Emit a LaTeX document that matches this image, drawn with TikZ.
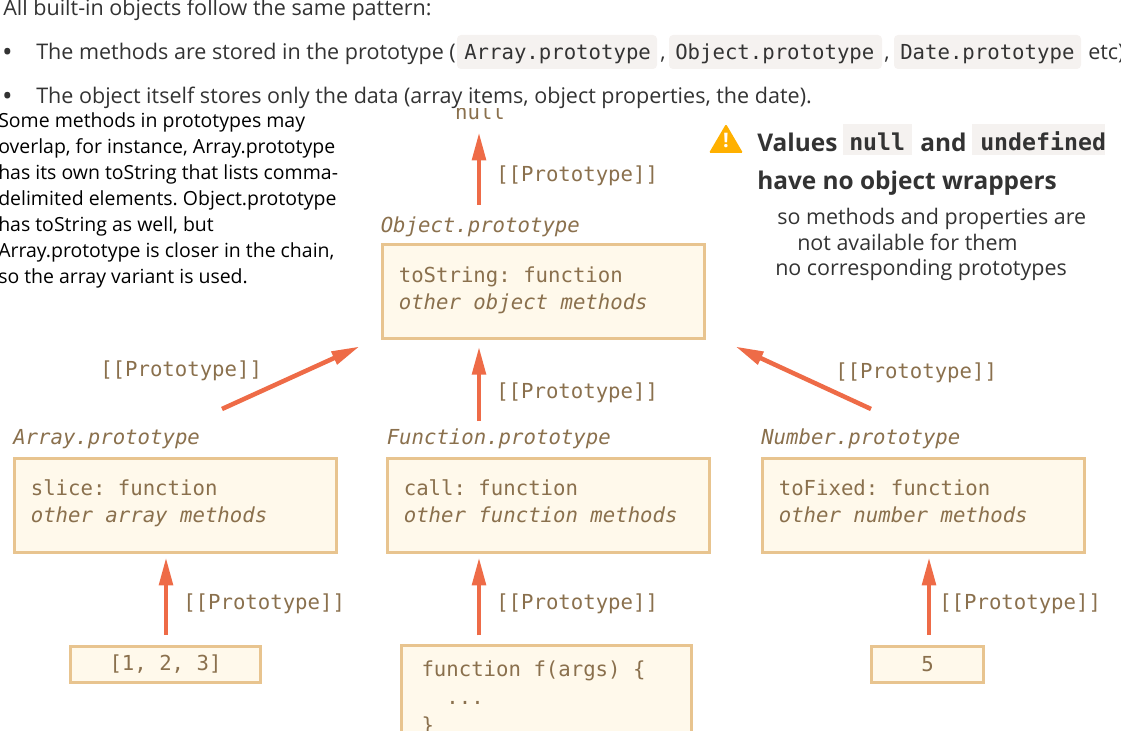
\documentclass[tikz,border=0pt]{standalone}
\usepackage{fontspec}
\setmainfont{Open Sans}
\setmonofont{DejaVu Sans Mono}
\usepackage{xcolor}
\usetikzlibrary{arrows.meta,positioning,calc}
\definecolor{cvfill}{RGB}{255,249,235}
\definecolor{cvedge}{RGB}{232,196,143}
\definecolor{cvtext}{RGB}{138,112,77}
\definecolor{cvarrow}{RGB}{238,107,71}
\definecolor{cvchip}{RGB}{245,242,240}
\definecolor{cvbody}{RGB}{51,51,51}
\definecolor{cvwarn}{RGB}{255,176,0}
\newcommand{\boxstrut}{\rule[-8.6pt]{0pt}{10pt}}
\newcommand{\topstrut}{\rule[-7.2pt]{0pt}{10pt}}
\begin{document}
\begin{tikzpicture}[x=0.75pt,y=-0.75pt,
  protobox/.style={draw=cvedge,fill=cvfill,line width=2.25pt,align=flush left,inner xsep=12pt,inner ysep=0pt,
              text=cvtext,font={\fontsize{15.5}{20.25}\selectfont\ttfamily}},
  valuebox/.style={draw=cvedge,fill=cvfill,line width=2.25pt,inner sep=0pt,minimum height=27pt,
              text=cvtext,font={\fontsize{15.5}{20.25}\selectfont\ttfamily}},
  prototitle/.style={anchor=west,inner sep=0pt,text=cvtext,font={\fontsize{15.5}{18}\selectfont\ttfamily\itshape}},
  protolabel/.style={anchor=west,inner sep=0pt,text=cvtext,font={\fontsize{15.5}{18}\selectfont\ttfamily}},
  protoarrow/.style={-{Triangle[length=21pt,width=10pt]},line width=3.4pt,draw=cvarrow},
  bodytext/.style={anchor=base west,inner sep=0pt,text=cvbody,font={\fontsize{16.15}{20}\selectfont}},
  chiptext/.style={anchor=base west,inner sep=0pt,text=cvbody,font={\fontsize{15.5}{20}\selectfont\ttfamily}},
  chipbox/.style={fill=cvchip,rounded corners=3pt,draw=none},
  headtext/.style={anchor=base west,inner sep=0pt,text=cvbody,font={\fontsize{18.3}{22}\selectfont\bfseries}},
  headcode/.style={anchor=base west,inner sep=0pt,text=cvbody,font={\fontsize{17.4}{22}\selectfont\ttfamily\bfseries}},
  sidetext/.style={anchor=north west,inner sep=0pt,align=flush left,text=black,font={\fontsize{14.6}{19.5}\selectfont\frenchspacing}},
  notetext/.style={anchor=base west,inner sep=0pt,text=cvbody,font={\fontsize{16.1}{20}\selectfont}}
]
\useasboundingbox (0,0) rectangle (1121,731);
\clip (0,0) rectangle (1121,731);
% null is cut off by the text line above it
\node[protolabel,anchor=center] (nulltext) at (480,112) {null};
\node[bodytext,fill=white,minimum width=1121*0.75pt,text width=820pt,inner ysep=3pt] (dataline) at (0,104) {};
% text above the picture
\node[bodytext] (intro) at (3,16) {All built-in objects follow the same pattern:};
\node[bodytext] (bulleta) at (3,60) {\textbf{•}};
\node[bodytext] (linea) at (36,60) {The methods are stored in the prototype (};
\fill[chipbox] (457,35) rectangle (657,69);
\fill[chipbox] (669,35) rectangle (882,69);
\fill[chipbox] (894,35) rectangle (1081,69);
\node[chiptext] (chiparray) at (464,60) {Array.prototype};
\node[bodytext] (comma1) at (660,60) {,};
\node[chiptext] (chipobject) at (675,60) {Object.prototype};
\node[bodytext] (comma2) at (884,60) {,};
\node[chiptext] (chipdate) at (900,60) {Date.prototype};
\node[bodytext] (etc) at (1088,60) {etc)};
\node[bodytext] (bulletb) at (3,104) {\textbf{•}};
\node[bodytext] (lineb) at (36,104) {The object itself stores only the data (array items, object properties, the date).};
% text on the left
\node[sidetext] (sidenote) at (-2,112) {Some methods in prototypes may\\overlap, for instance, Array.prototype\\has its own toString that lists comma-\\delimited elements. Object.prototype\\has toString as well, but\\Array.prototype is closer in the chain,\\so the array variant is used.};
% warning on the right
\fill[cvwarn,rounded corners=1pt] (726,124) -- (743,153) -- (709,153) -- cycle;
\node[inner sep=0pt,text=white,font={\fontsize{15}{15}\selectfont\bfseries}] (warnmark) at (726,140) {!};
\fill[chipbox,sharp corners] (843,124) rectangle (912,155);
\fill[chipbox,sharp corners] (972,124) rectangle (1105,155);
\node[headtext] (headvalues) at (757,152) {Values};
\node[headcode] (headnull) at (849,151) {null};
\node[headtext] (headand) at (920,152) {and};
\node[headcode] (headundef) at (980,151) {undefined};
\node[headtext] (headwrap) at (757,190) {have no object wrappers};
\node[notetext] (notea) at (777,224) {so methods and properties are};
\node[notetext] (noteb) at (797,250) {not available for them};
\node[notetext] (notec) at (775,275) {no corresponding prototypes};
% prototype boxes
\node[protobox,text width=217pt,minimum height=70.5pt] (objproto) at (543.5,291.5)
  {\strut toString: function\\\topstrut\textit{other object methods}};
\node[protobox,text width=217pt,minimum height=70.5pt] (arrayproto) at (175.5,505.5)
  {\strut slice: function\\\boxstrut\textit{other array methods}};
\node[protobox,text width=217pt,minimum height=70.5pt] (funcproto) at (548.5,505.5)
  {\strut call: function\\\boxstrut\textit{other function methods}};
\node[protobox,text width=217pt,minimum height=70.5pt] (numproto) at (923.5,505.5)
  {\strut toFixed: function\\\boxstrut\textit{other number methods}};
\node[prototitle] (objtitle) at (380.5,227) {Object.prototype};
\node[prototitle] (arraytitle) at (13,439) {Array.prototype};
\node[prototitle] (functitle) at (386.5,439) {Function.prototype};
\node[prototitle] (numtitle) at (761,439) {Number.prototype};
% values at the bottom
\node[valuebox,minimum width=142.5pt] (arrayval) at (165.5,664) {[1, 2, 3]};
\node[valuebox,minimum width=83.5pt] (numval) at (927.5,664) {5};
\node[protobox,anchor=north west,inner xsep=15.4pt,inner ysep=8.9pt,text width=187pt,
      font={\fontsize{15.5}{21}\selectfont\ttfamily}] (funcval) at (399.5,644)
  {\strut function f(args) \{\\\strut\ \ ...\\\strut\}};
% arrows
\coordinate (midline) at (479,0);
\coordinate (arrayline) at (166,0);
\coordinate (numline) at (929,0);
\coordinate (arraytail) at (222,409);
\coordinate (objheadl) at (359.5,346.5);
\coordinate (numtail) at (871,409);
\coordinate (objheadr) at (735.5,346.5);
\draw[protoarrow,shorten <=28.5pt,shorten >=9pt] (objproto.north -| midline)--(nulltext.south -| midline);
\draw[protoarrow,shorten <=27pt,shorten >=5pt] (funcproto.north -| midline)--(objproto.south -| midline);
\draw[protoarrow] (arraytail)--(objheadl);
\draw[protoarrow] (numtail)--(objheadr);
\draw[protoarrow,shorten <=7.5pt,shorten >=2.5pt] (arrayval.north -| arrayline)--(arrayproto.south -| arrayline);
\draw[protoarrow,shorten <=6.5pt,shorten >=2.5pt] (funcval.north -| midline)--(funcproto.south -| midline);
\draw[protoarrow,shorten <=7.5pt,shorten >=2.5pt] (numval.north -| numline)--(numproto.south -| numline);
% labels of the arrows
\node[protolabel] (labnull) at (496,176) {[[Prototype]]};
\node[protolabel] (labarray) at (100,371) {[[Prototype]]};
\node[protolabel] (labfunc) at (496,393) {[[Prototype]]};
\node[protolabel] (labnum) at (835,373) {[[Prototype]]};
\node[protolabel] (labarrval) at (183,604) {[[Prototype]]};
\node[protolabel] (labfuncval) at (496,604) {[[Prototype]]};
\node[protolabel] (labnumval) at (939,604) {[[Prototype]]};
\end{tikzpicture}
\end{document}
